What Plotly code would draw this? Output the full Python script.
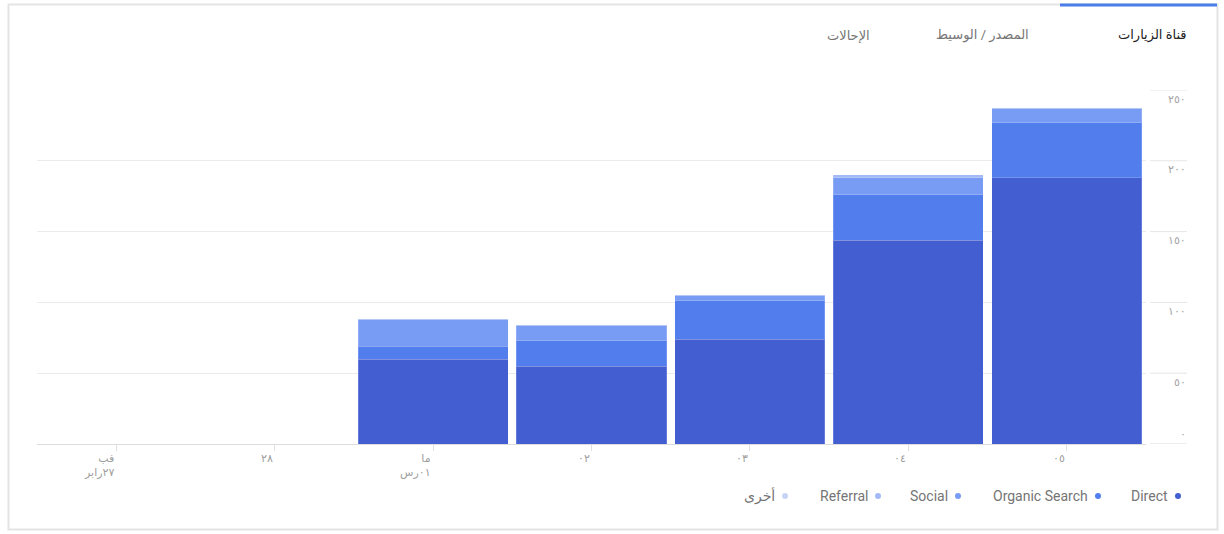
import plotly.graph_objects as go

# ===== data =====
days = ["فب<br>٢٧رابر", "٢٨", "ما<br>٠١رس", "٠٢", "٠٣", "٠٤", "٠٥"]
direct = [0, 0, 60, 55, 74, 144, 188]
organic_search = [0, 0, 9, 18, 27, 32, 39]
social = [0, 0, 19, 11, 4, 12, 10]
referral = [0, 0, 0, 0, 0, 2, 0]
other = [0, 0, 0, 0, 0, 0, 0]

series_names = ["Direct", "Organic Search", "Social", "Referral", "أخرى"]
series_colors = ["#435ED1", "#517DED", "#789CF3", "#A3BAF6", "#C8D5F8"]

y_tick_vals = [0, 50, 100, 150, 200, 250]
y_tick_text = ["٠", "٥٠", "١٠٠", "١٥٠", "٢٠٠", "٢٥٠"]

tabs = ["قناة الزيارات", "المصدر / الوسيط", "الإحالات"]

# ===== pixel helpers (plot area in page pixels) =====
X0, X1, YB, YT = 37, 1146, 444, 90
W, H = 1224, 534


def px(x):
    return (x - X0) / (X1 - X0)


def py(y):
    return (YB - y) / (YB - YT)


fig = go.Figure()
for name, vals, col in zip(series_names, [direct, organic_search, social, referral, other], series_colors):
    fig.add_trace(go.Bar(
        x=days, y=vals, name=name,
        marker=dict(color=col, line=dict(color="rgba(255,255,255,0.18)", width=1)),
        showlegend=False, hoverinfo="skip",
    ))

shapes = []
annotations = []

# outer card border + active tab line
shapes.append(dict(type="rect", xref="paper", yref="paper",
                   x0=px(8.5), x1=px(1217.5), y0=py(529.5), y1=py(4.5),
                   line=dict(color="#E4E4E4", width=2), layer="below"))
shapes.append(dict(type="line", xref="paper", yref="paper",
                   x0=px(1060), x1=px(1217), y0=py(5), y1=py(5),
                   line=dict(color="#4A7EE9", width=3)))

# gridline stubs beside the right-hand labels
for v in y_tick_vals:
    shapes.append(dict(type="line", xref="paper", yref="y",
                       x0=px(1150), x1=px(1187), y0=v, y1=v,
                       line=dict(color="#E6E6E6" if v else "#DDDDDD", width=1)))

# y labels (right side, under each gridline)
for v, t in zip(y_tick_vals, y_tick_text):
    annotations.append(dict(xref="paper", yref="y", x=px(1188), y=v, text=t,
                            showarrow=False, xanchor="right", yanchor="middle",
                            yshift=10 if v == 0 else -9,
                            font=dict(size=11, color="#A3A3A3")))

# x labels, right-aligned on the tick
for d in days:
    annotations.append(dict(xref="x", yref="paper", x=d, y=py(450), text=d,
                            showarrow=False, xanchor="right", yanchor="top", align="right",
                            font=dict(size=11, color="#9E9E9E")))

# tabs
tab_right = [1189, 1031, 872]
tab_colors = ["#222222", "#757575", "#757575"]
for t, xr, c in zip(tabs, tab_right, tab_colors):
    annotations.append(dict(xref="paper", yref="paper", x=px(xr), y=py(35), text=t,
                            showarrow=False, xanchor="right", yanchor="middle",
                            font=dict(size=13, color=c)))

# legend (RTL: dot to the right of the text)
dot_x = [1178, 1098, 958, 878, 785]
for name, col, dx in zip(series_names, series_colors, dot_x):
    shapes.append(dict(type="circle", xref="paper", yref="paper",
                       x0=px(dx - 3), x1=px(dx + 3), y0=py(499), y1=py(493),
                       fillcolor=col, line=dict(width=0)))
    annotations.append(dict(xref="paper", yref="paper", x=px(dx - 8), y=py(496), text=name,
                            showarrow=False, xanchor="right", yanchor="middle",
                            font=dict(size=14, color="#757575")))

fig.update_layout(
    barmode="stack",
    bargap=0.053,
    width=W, height=H,
    margin=dict(l=X0, r=W - X1, t=YT, b=H - YB),
    plot_bgcolor="white",
    paper_bgcolor="white",
    font=dict(family="Roboto, DejaVu Sans, sans-serif"),
    shapes=shapes,
    annotations=annotations,
    hovermode=False,
)
fig.update_xaxes(
    type="category",
    showticklabels=False,
    showgrid=False,
    showline=True, linecolor="#DDDDDD", linewidth=1,
    ticks="outside", ticklen=6, tickcolor="#E0E0E0",
    zeroline=False,
)
fig.update_yaxes(
    range=[0, 250],
    tickvals=y_tick_vals,
    showticklabels=False,
    showgrid=True, gridcolor="#EBEBEB", gridwidth=1,
    zeroline=False,
    side="right",
)

# page has a default 8px body margin; drop it so the figure sits at 0,0
fig.write_html("out.html", config={"displayModeBar": False},
               post_script="document.body.style.margin='0';document.body.style.overflow='hidden';")
